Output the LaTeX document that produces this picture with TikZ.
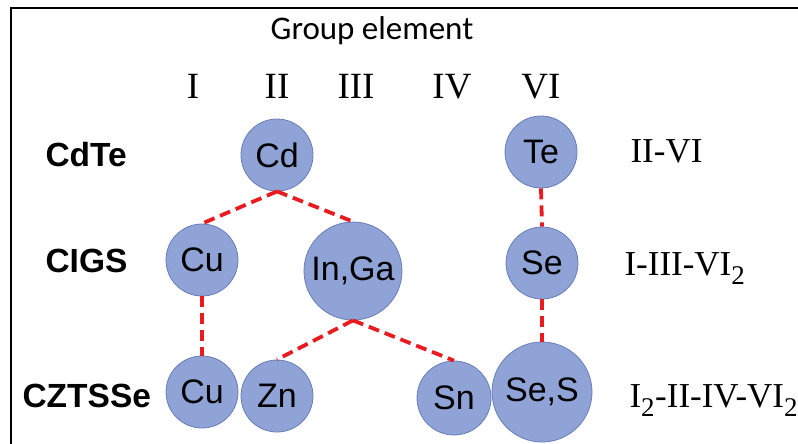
\documentclass[tikz,border=0pt]{standalone}
\usepackage{fontspec}
\setmainfont{Liberation Serif}
\newfontfamily\arialfont{Liberation Sans}
\newfontfamily\calibrifont{Carlito}
\usetikzlibrary{positioning}

\definecolor{atomfill}{RGB}{143,163,214}
\definecolor{atomedge}{RGB}{105,125,185}
\definecolor{bondred}{RGB}{232,28,32}

\begin{document}
\begin{tikzpicture}[
    x=1pt, y=-1pt,
    atom/.style={circle, draw=atomedge, line width=0.8pt, fill=atomfill,
        inner sep=0pt, font=\arialfont\fontsize{34}{36}\selectfont},
    bond/.style={draw=bondred, line width=3.8pt, dash pattern=on 11pt off 6pt},
    group/.style={anchor=base, font=\fontsize{37}{39}\selectfont},
    compound/.style={anchor=base west, font=\arialfont\bfseries\fontsize{33.5}{35}\selectfont},
    formula/.style={anchor=base west, font=\fontsize{35}{37}\selectfont}
]

\useasboundingbox (0,0) rectangle (798,444);

% Frame
\draw[line width=2pt] (11,444) -- (11,8) -- (798,8);

% Heading and group numbers
\node[anchor=base, font=\calibrifont\fontsize{33}{35}\selectfont] (head) at (372,40) {Group element};
\node[group] (gI)   at (193,99) {I};
\node[group] (gII)  at (277,99) {II};
\node[group] (gIII) at (356,99) {III};
\node[group] (gIV)  at (452,99) {IV};
\node[group] (gVI)  at (541,99) {VI};

% Compound names
\node[compound] (cdte)   at (42,166) {CdTe};
\node[compound] (cigs)   at (42,272) {CIGS};
\node[compound] (cztsse) at (19,407) {CZTSSe};

% Formula types
\node[formula] (tII)   at (627,162) {II-VI};
\node[formula] (tIII)  at (621,275) {I-III-VI\textsubscript{\fontsize{27}{29}\selectfont 2}};
\node[formula] (tIV)   at (626,407) {I\textsubscript{\fontsize{27}{29}\selectfont 2}-II-IV-VI\textsubscript{\fontsize{27}{29}\selectfont 2}};

% Atoms
\node[atom, minimum size=72pt]  (cd)   at (277,155) {Cd};
\node[atom, minimum size=72pt]  (te)   at (541,152) {Te};
\node[atom, minimum size=72pt]  (cua)  at (202,260) {Cu};
\node[atom, minimum size=98pt]  (inga) at (353,271) {In,Ga};
\node[atom, minimum size=72pt]  (se)   at (542,263) {Se};
\node[atom, minimum size=72pt]  (cub)  at (202,392) {Cu};
\node[atom, minimum size=72pt]  (zn)   at (277,396) {Zn};
\node[atom, minimum size=74pt]  (sn)   at (454,398) {Sn};
\node[atom, minimum size=100pt] (ses)  at (542,392) {Se,S};

% Bonds
\draw[bond] (cd.south) -- (cua.north);
\draw[bond] (cd.south) -- (inga.north);
\draw[bond] (cua.south) -- (cub.north);
\draw[bond] (inga.south) -- (zn.north);
\draw[bond] (inga.south) -- (sn.north);
\draw[bond] (te.south) -- (se.north);
\draw[bond] (se.south) -- (ses.north);

\end{tikzpicture}
\end{document}
